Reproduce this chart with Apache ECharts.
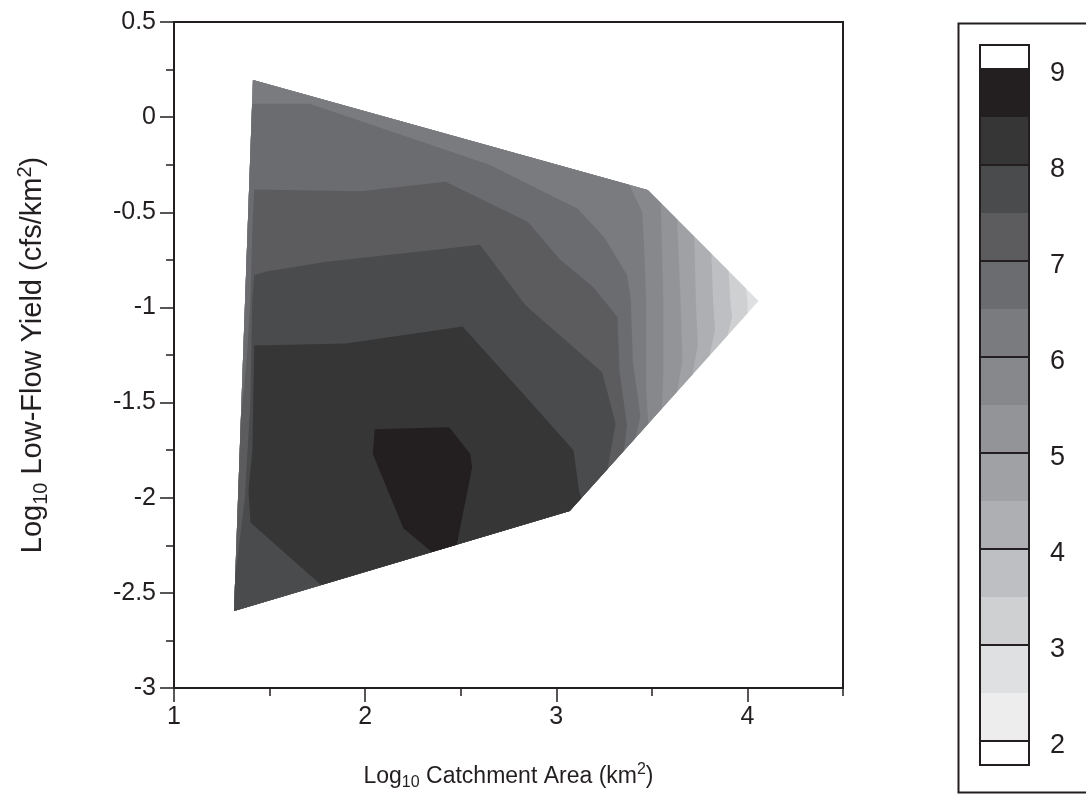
<!DOCTYPE html>
<html>
<head>
<meta charset="utf-8">
<title>Low-flow yield vs catchment area</title>
<script src="https://cdn.jsdelivr.net/npm/echarts@6.0.0/dist/echarts.min.js"></script>
<style>
html, body { margin: 0; padding: 0; background: #ffffff; }
#chart { width: 1086px; height: 808px; }
</style>
</head>
<body>
<div id="chart"></div>
<script>
// Boundary of the sampled domain: [log10 catchment area, log10 low-flow yield]
const domainHull = [
  [1.413, 0.195], [3.478, -0.383], [4.058, -0.966], [3.070, -2.070], [1.314, -2.595]
];

// Isolines; each starts and ends on the domain boundary and keeps higher values on its right-hand side
const iso30 = [[3.99, -0.90], [4.00, -0.96], [4.00, -1.03]];
const iso35 = [[3.90, -0.81], [3.91, -0.96], [3.92, -1.05], [3.90, -1.15]];
const iso40 = [[3.81, -0.72], [3.82, -0.96], [3.83, -1.12], [3.80, -1.25]];
const iso45 = [[3.72, -0.63], [3.73, -0.96], [3.74, -1.20], [3.71, -1.35]];
const iso50 = [[3.63, -0.54], [3.65, -0.96], [3.66, -1.28], [3.63, -1.44]];
const iso55 = [[3.55, -0.45], [3.56, -0.96], [3.56, -1.36], [3.55, -1.53]];
const iso60 = [[3.38, -0.36], [3.45, -0.50], [3.46, -0.70], [3.47, -0.96], [3.47, -1.43], [3.48, -1.61]];
const iso65 = [[1.41, 0.07], [1.71, 0.07], [2.65, -0.25], [3.11, -0.48], [3.25, -0.63], [3.37, -0.83],
               [3.39, -0.96], [3.40, -1.28], [3.44, -1.57], [3.42, -1.69]];
const iso70 = [[1.35, -1.59], [1.38, -1.28], [1.40, -0.96], [1.41, -0.59], [1.42, -0.38], [1.98, -0.39],
               [2.42, -0.34], [2.85, -0.55], [3.02, -0.75], [3.19, -0.89], [3.32, -1.05], [3.33, -1.33],
               [3.37, -1.62], [3.35, -1.75]];
const iso75 = [[1.32, -2.41], [1.37, -2.01], [1.40, -1.49], [1.41, -0.96], [1.42, -0.83], [1.49, -0.81],
               [1.80, -0.76], [2.43, -0.69], [2.60, -0.67], [2.66, -0.75], [2.84, -0.99], [3.24, -1.34],
               [3.31, -1.61], [3.27, -1.85]];
const iso80 = [[1.77, -2.46], [1.40, -2.13], [1.39, -1.96], [1.41, -1.75], [1.42, -1.20], [1.90, -1.19],
               [2.51, -1.10], [2.85, -1.48], [3.09, -1.75], [3.12, -1.97], [3.13, -2.00]];
const iso85 = [[2.35, -2.29], [2.20, -2.16], [2.04, -1.77], [2.05, -1.64], [2.44, -1.63], [2.55, -1.77],
               [2.56, -1.84], [2.48, -2.25]];

const isoLevels = [3, 3.5, 4, 4.5, 5, 5.5, 6, 6.5, 7, 7.5, 8, 8.5];
const isolines = [iso30, iso35, iso40, iso45, iso50, iso55, iso60, iso65, iso70, iso75, iso80, iso85];
const baseLevel = 2.5;

// Colour key: band edges and labelled values
const keyLevels = [2, 2.5, 3, 3.5, 4, 4.5, 5, 5.5, 6, 6.5, 7, 7.5, 8, 8.5, 9];
const keyTicks = [2, 3, 4, 5, 6, 7, 8, 9];

// Axis ticks
const xMajorTicks = [1, 2, 3, 4];
const xMinorTicks = [1.5, 2.5, 3.5, 4.5];

// Grey ramp, one shade per half-unit band from 2 up to 9
const palette = ['#ededee', '#dfe0e1', '#cfd0d2', '#bebfc2', '#aeafb2', '#a0a1a4', '#939497',
                 '#87888b', '#7a7b7e', '#6b6c6f', '#5c5c5e', '#4a4b4d', '#363636', '#231f20'];
const INK = '#231f20';
const FONT = '"Liberation Sans", Arial, Helvetica, sans-serif';

function bandColor(lo) {
  return palette[Math.round((lo - keyLevels[0]) / 0.5)];
}

// Nearest point on the domain boundary, with the index of the edge it lies on
function onBoundary(p) {
  let best = null;
  const n = domainHull.length;
  for (let k = 0; k < n; k++) {
    const a = domainHull[k], b = domainHull[(k + 1) % n];
    const dx = b[0] - a[0], dy = b[1] - a[1];
    let t = ((p[0] - a[0]) * dx + (p[1] - a[1]) * dy) / (dx * dx + dy * dy);
    t = Math.max(0, Math.min(1, t));
    const q = [a[0] + t * dx, a[1] + t * dy];
    const d = Math.hypot(p[0] - q[0], p[1] - q[1]);
    if (!best || d < best.d) best = { edge: k, t: t, q: q, d: d };
  }
  return best;
}

// Region where the surface is at or above an isoline's level
function superlevelRegion(line) {
  const n = domainHull.length;
  const s = onBoundary(line[0]);
  const e = onBoundary(line[line.length - 1]);
  const pts = [s.q].concat(line.slice(1, -1), [e.q]);
  if (!(s.edge === e.edge && s.t > e.t)) {
    let k = (e.edge + 1) % n;
    for (;;) {
      pts.push(domainHull[k]);
      if (k === s.edge) break;
      k = (k + 1) % n;
    }
  }
  return pts;
}

const fills = [{ points: domainHull, color: bandColor(baseLevel) }].concat(
  isoLevels.map((lv, i) => ({ points: superlevelRegion(isolines[i]), color: bandColor(lv) }))
);

const keyBands = [[keyLevels[0] - 0.25, keyLevels[0], '#ffffff']];
for (let i = 0; i < keyLevels.length - 1; i++) {
  keyBands.push([keyLevels[i], keyLevels[i + 1], bandColor(keyLevels[i])]);
}
keyBands.push([keyLevels[keyLevels.length - 1], keyLevels[keyLevels.length - 1] + 0.25, '#ffffff']);
const keyMin = keyBands[0][0];
const keyMax = keyBands[keyBands.length - 1][1];

function titleStyle(size) {
  const sub = Math.round(size * 0.68);
  return {
    t: { fontSize: size, lineHeight: Math.round(size * 1.25), verticalAlign: 'middle', color: INK, fontFamily: FONT },
    s: { fontSize: sub, lineHeight: sub, verticalAlign: 'bottom', color: INK, fontFamily: FONT },
    p: { fontSize: sub, lineHeight: sub, verticalAlign: 'top', color: INK, fontFamily: FONT }
  };
}
const tickLine = { color: INK, width: 1.5 };

const chart = echarts.init(document.getElementById('chart'), null, { renderer: 'canvas' });

chart.setOption({
  animation: false,
  backgroundColor: '#ffffff',
  textStyle: { fontFamily: FONT, color: INK },
  grid: [
    { left: 174, top: 22, width: 669, height: 666, show: true, borderColor: INK, borderWidth: 2,
      backgroundColor: 'transparent', outerBoundsMode: 'none', containLabel: false },
    { left: 980, top: 45, width: 49, height: 720, outerBoundsMode: 'none', containLabel: false }
  ],
  xAxis: [
    {
      gridIndex: 0, type: 'value', min: 1, max: 4.5, position: 'bottom',
      axisLine: { show: true, onZero: false, lineStyle: { color: INK, width: 2 } },
      axisTick: { show: true, customValues: xMajorTicks, length: 14, lineStyle: tickLine },
      axisLabel: { customValues: xMajorTicks, color: INK, fontSize: 25, margin: 17, fontFamily: FONT },
      splitLine: { show: false },
      name: '{t|Log}{s|10}{t| Catchment Area (km}{p|2}{t|)}',
      nameLocation: 'middle', nameGap: 74,
      nameTextStyle: { rich: titleStyle(23) }
    },
    {
      gridIndex: 0, type: 'value', min: 1, max: 4.5, position: 'bottom',
      axisLine: { show: false, onZero: false },
      axisTick: { show: true, customValues: xMinorTicks, length: 8, lineStyle: tickLine },
      axisLabel: { show: false },
      splitLine: { show: false }
    },
    { gridIndex: 1, type: 'value', min: 0, max: 1, show: false }
  ],
  yAxis: [
    {
      gridIndex: 0, type: 'value', min: -3, max: 0.5, interval: 0.5,
      axisLine: { show: true, onZero: false, lineStyle: { color: INK, width: 2 } },
      axisTick: { show: true, length: 14, lineStyle: tickLine },
      minorTick: { show: true, splitNumber: 2, length: 8, lineStyle: tickLine },
      axisLabel: { color: INK, fontSize: 25, margin: 18, fontFamily: FONT },
      splitLine: { show: false },
      minorSplitLine: { show: false },
      name: '{t|Log}{s|10}{t| Low-Flow Yield (cfs/km}{p|2}{t|)}',
      nameLocation: 'middle', nameGap: 123, nameRotate: 90,
      nameTextStyle: { rich: titleStyle(29) }
    },
    {
      gridIndex: 1, type: 'value', min: keyMin, max: keyMax, position: 'right',
      axisLine: { show: false }, axisTick: { show: false }, splitLine: { show: false },
      axisLabel: { customValues: keyTicks, color: INK, fontSize: 27, margin: 21, fontFamily: FONT,
                   verticalAlign: 'top', lineHeight: 10 }
    }
  ],
  graphic: [
    { type: 'rect', left: 956, top: 21, shape: { width: 160, height: 769 },
      style: { fill: 'none', stroke: INK, lineWidth: 2 }, silent: true }
  ],
  series: [
    {
      type: 'custom', name: 'surface', xAxisIndex: 0, yAxisIndex: 0,
      data: fills.map(f => f.points[0]),
      silent: true,
      renderItem: function (params, api) {
        const f = fills[params.dataIndex];
        return {
          type: 'polygon',
          shape: { points: f.points.map(p => api.coord(p)) },
          style: { fill: f.color }
        };
      }
    },
    {
      type: 'custom', name: 'key', xAxisIndex: 2, yAxisIndex: 1,
      data: keyBands.map(b => [0.5, (b[0] + b[1]) / 2]),
      silent: true,
      renderItem: function (params, api) {
        const b = keyBands[params.dataIndex];
        const p0 = api.coord([0, b[1]]);
        const p1 = api.coord([1, b[0]]);
        return {
          type: 'rect',
          shape: { x: p0[0], y: p0[1], width: p1[0] - p0[0], height: p1[1] - p0[1] },
          style: { fill: b[2] }
        };
      }
    },
    {
      type: 'custom', name: 'keyLines', xAxisIndex: 2, yAxisIndex: 1,
      data: keyTicks.map(v => [0.5, v]),
      silent: true, z: 3,
      renderItem: function (params, api) {
        const v = keyTicks[params.dataIndex];
        const a = api.coord([0, v]);
        const b = api.coord([1, v]);
        return {
          type: 'line',
          shape: { x1: a[0], y1: a[1], x2: b[0], y2: b[1] },
          style: { stroke: INK, lineWidth: 2 }
        };
      }
    },
    {
      type: 'custom', name: 'keyFrame', xAxisIndex: 2, yAxisIndex: 1,
      data: [[0.5, (keyMin + keyMax) / 2]],
      silent: true, z: 4,
      renderItem: function (params, api) {
        const p0 = api.coord([0, keyMax]);
        const p1 = api.coord([1, keyMin]);
        return {
          type: 'rect',
          shape: { x: p0[0], y: p0[1], width: p1[0] - p0[0], height: p1[1] - p0[1] },
          style: { fill: 'none', stroke: INK, lineWidth: 2 }
        };
      }
    }
  ]
});
</script>
</body>
</html>
